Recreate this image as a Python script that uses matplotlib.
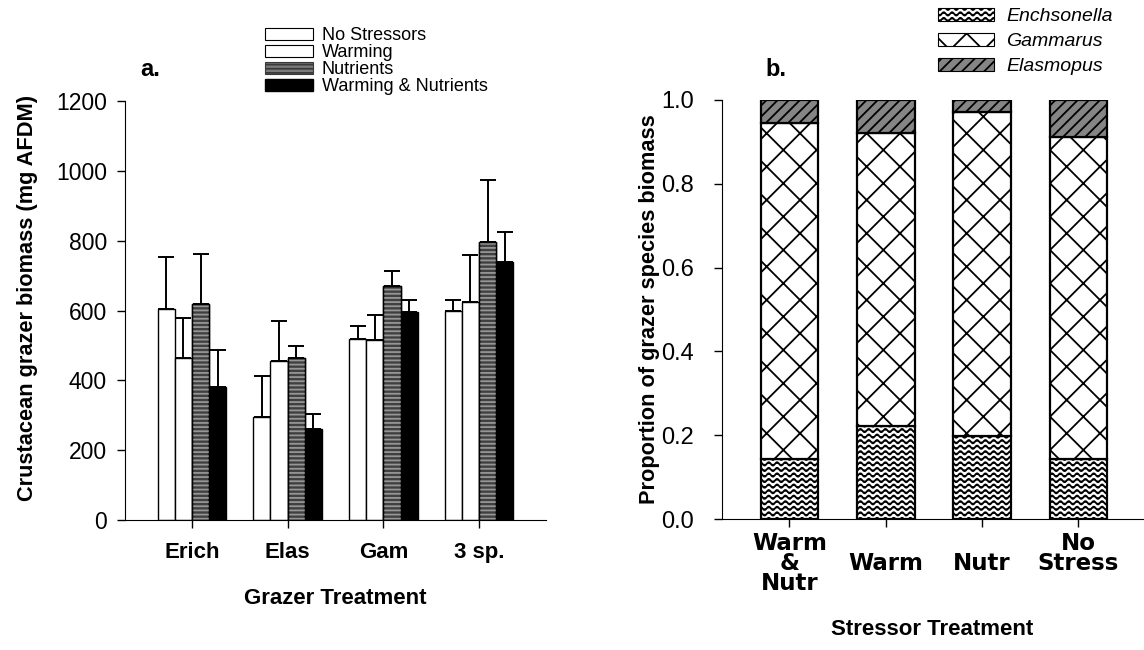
import warnings
import numpy as np
import matplotlib
matplotlib.use("Agg")
import matplotlib.pyplot as plt
import matplotlib.hatch as mhatch
from matplotlib.path import Path
from matplotlib.patches import Patch

warnings.filterwarnings("ignore")

# ---- data -------------------------------------------------------------
grazers = ["Erich", "Elas", "Gam", "3 sp."]
treatments = ["No Stressors", "Warming", "Nutrients", "Warming & Nutrients"]
biomass_no_stress = [604, 295, 519, 598]
biomass_warming = [463, 456, 516, 625]
biomass_nutrients = [618, 465, 670, 796]
biomass_warm_nutr = [381, 260, 595, 739]
se_no_stress = [150, 117, 38, 31]
se_warming = [115, 115, 72, 133]
se_nutrients = [145, 33, 42, 178]
se_warm_nutr = [106, 43, 36, 87]

stressors = ["Warm\n&\nNutr", "\nWarm", "\nNutr", "No\nStress"]
species = ["Enchsonella", "Gammarus", "Elasmopus"]
prop_enchsonella = [0.144, 0.222, 0.199, 0.144]
prop_gammarus = [0.800, 0.700, 0.773, 0.768]
prop_elasmopus = [0.056, 0.078, 0.028, 0.088]


# ---- wavy hatch pattern -----------------------------------------------
class WavyHatch(mhatch.HatchPatternBase):
    periods = 12
    samples = 10

    def __init__(self, hatch, density):
        self.num_lines = int(hatch.count("~") * density)
        self.npts = self.periods * self.samples + 1
        self.num_vertices = self.num_lines * self.npts

    def set_vertices_and_codes(self, vertices, codes):
        if self.num_lines == 0:
            return
        x = np.linspace(0.0, 1.0, self.npts)
        amp = 0.3 / self.num_lines
        wave = amp * np.sin(2 * np.pi * self.periods * x)
        for i in range(self.num_lines):
            y0 = (i + 0.5) / self.num_lines
            sl = slice(i * self.npts, (i + 1) * self.npts)
            vertices[sl, 0] = x
            vertices[sl, 1] = y0 + wave
            codes[sl] = Path.LINETO
            codes[i * self.npts] = Path.MOVETO


mhatch._hatch_types.append(WavyHatch)

plt.rcParams["font.family"] = ["Liberation Sans", "DejaVu Sans"]
plt.rcParams["hatch.linewidth"] = 1.3

fig = plt.figure(figsize=(11.44, 6.5), dpi=100)
ax_a = fig.add_axes([125 / 1144, 1 - 520 / 650, 421 / 1144, 419 / 650])
ax_b = fig.add_axes([722 / 1144, 1 - 519 / 650, 421 / 1144, 419 / 650])

# ---- panel a ----------------------------------------------------------
x = np.arange(len(grazers))
w = 0.18
series = [biomass_no_stress, biomass_warming, biomass_nutrients, biomass_warm_nutr]
errors = [se_no_stress, se_warming, se_nutrients, se_warm_nutr]
faces = ["white", "white", "#404040", "black"]
for i, (vals, errs, fc) in enumerate(zip(series, errors, faces)):
    pos = x + (i - 1.5) * w
    ax_a.errorbar(pos, vals, yerr=[np.zeros(len(vals)), errs], fmt="none",
                  ecolor="black", elinewidth=1.4, capsize=6, capthick=1.4,
                  zorder=1)
    ax_a.bar(pos, vals, width=w, facecolor=fc, edgecolor="black",
             linewidth=1.0, zorder=2)
    if i == 2:
        ax_a.bar(pos, vals, width=w, facecolor="none", edgecolor="#969696",
                 hatch="----", linewidth=0, zorder=3)
        ax_a.bar(pos, vals, width=w, facecolor="none", edgecolor="black",
                 linewidth=1.0, zorder=4)

ax_a.set_xlim(-0.7, 3.7)
ax_a.set_ylim(0, 1200)
ax_a.set_yticks(range(0, 1201, 200))
ax_a.set_xticks(x)
ax_a.set_xticklabels(grazers, fontsize=16, fontweight="bold")
ax_a.tick_params(axis="y", labelsize=16.5, length=6, width=1,
                 direction="out", pad=7)
ax_a.tick_params(axis="x", length=6, width=1, direction="out", pad=10)
for s in ["top", "right"]:
    ax_a.spines[s].set_visible(False)
ax_a.set_ylabel("Crustacean grazer biomass (mg AFDM)", fontsize=15.7,
                fontweight="bold")
ax_a.yaxis.set_label_coords(-0.207, 0.53)
ax_a.set_xlabel("Grazer Treatment", fontsize=16, fontweight="bold",
                labelpad=18)
fig.text(140 / 1144, 1 - 69 / 650, "a.", fontsize=17, fontweight="bold",
         va="center", ha="left")

handles_a = [
    Patch(facecolor="white", edgecolor="black", linewidth=0.8),
    Patch(facecolor="white", edgecolor="black", linewidth=0.8),
    Patch(facecolor="#7a7a7a", edgecolor="#3a3a3a", hatch="----", linewidth=0.8),
    Patch(facecolor="black", edgecolor="black"),
]
fig.legend(handles_a, treatments, loc="upper left",
           bbox_to_anchor=(265 / 1144, 1 - 27 / 650), frameon=False,
           fontsize=13, handlelength=2.65, handleheight=0.66,
           labelspacing=0.0, handletextpad=0.5, borderaxespad=0,
           borderpad=0)

# ---- panel b ----------------------------------------------------------
xb = np.arange(len(stressors))
wb = 0.6
bottom = np.zeros(len(stressors))
styles = [
    dict(facecolor="white", edgecolor="black", hatch="~~~"),
    dict(facecolor="white", edgecolor="black", hatch="x"),
    dict(facecolor="#858585", edgecolor="black", hatch="///"),
]
for vals, st in zip([prop_enchsonella, prop_gammarus, prop_elasmopus], styles):
    ax_b.bar(xb, vals, bottom=bottom, width=wb, linewidth=1.6, **st)
    bottom = bottom + np.array(vals)

ax_b.set_xlim(-0.7, 3.67)
ax_b.set_ylim(0, 1.0)
ax_b.set_yticks(np.arange(0, 1.01, 0.2))
ax_b.set_yticklabels([f"{v:.1f}" for v in np.arange(0, 1.01, 0.2)])
ax_b.set_xticks(xb)
ax_b.set_xticklabels(stressors, fontsize=16.5, fontweight="bold",
                     family="DejaVu Sans", linespacing=0.85)
ax_b.tick_params(axis="y", labelsize=17, length=6, width=1,
                 direction="out", pad=14)
ax_b.tick_params(axis="x", length=6, width=1, direction="out", pad=3)
for s in ["top", "right"]:
    ax_b.spines[s].set_visible(False)
ax_b.set_ylabel("Proportion of grazer species biomass", fontsize=15.7,
                fontweight="bold")
ax_b.yaxis.set_label_coords(-0.147, 0.5)
ax_b.set_xlabel("Stressor Treatment", fontsize=16, fontweight="bold",
                labelpad=17)
fig.text(765 / 1144, 1 - 69 / 650, "b.", fontsize=17, fontweight="bold",
         va="center", ha="left")

handles_b = [Patch(linewidth=0.8, **st) for st in styles]
fig.legend(handles_b, species, loc="upper left",
           bbox_to_anchor=(938 / 1144, 1 - 8 / 650), frameon=False,
           handlelength=2.9, handleheight=0.67,
           labelspacing=0.38, handletextpad=0.6, borderaxespad=0,
           borderpad=0, prop={"style": "italic", "size": 14})

fig.savefig("out.png", dpi=100, facecolor="white")
